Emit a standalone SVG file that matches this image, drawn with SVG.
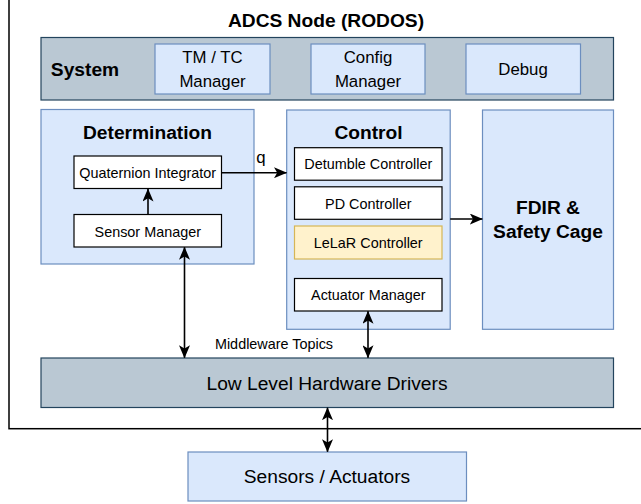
<svg xmlns="http://www.w3.org/2000/svg" width="641" height="504" viewBox="0 0 641 504">
<style>
text{font-family:"Liberation Sans",Arial,Helvetica,sans-serif;fill:#000;text-anchor:middle}
.b{font-weight:bold;font-size:19.2px}
.m{font-size:16.8px}
.s{font-size:14.4px}
.l{font-size:19.2px}
.blue{fill:#dae8fc;stroke:#6c8ebf;stroke-width:1.2}
.gray{fill:#bac8d3;stroke:#23445d;stroke-width:1.2}
.white{fill:#fff;stroke:#000;stroke-width:1.2}
.yellow{fill:#fff2cc;stroke:#d6b656;stroke-width:1.2}
.conn{fill:none;stroke:#000;stroke-width:1.6}
</style>
<defs>
<marker id="ah" viewBox="0 0 13 11" refX="12.5" refY="5.5" markerWidth="13" markerHeight="11" markerUnits="userSpaceOnUse" orient="auto-start-reverse">
<path d="M0,0 L13,5.5 L0,11 L3.2,5.5 z" fill="#000"/>
</marker>
</defs>
<rect width="641" height="504" fill="#fff"/>
<g id="adcs-node">
<rect x="9" y="-10" width="650" height="438.7" fill="none" stroke="#000" stroke-width="1.5"/>
<text class="b" x="326" y="27">ADCS Node (RODOS)</text>
</g>
<g id="system">
<rect class="gray" x="41" y="37.5" width="572.5" height="62.5"/>
<text class="b" x="85" y="76">System</text>
</g>
<g id="tmtc">
<rect class="blue" x="155" y="44" width="115" height="50"/>
<text class="m" x="212.5" y="63">TM / TC</text>
<text class="m" x="212.5" y="87">Manager</text>
</g>
<g id="config">
<rect class="blue" x="311" y="44" width="114" height="50"/>
<text class="m" x="368" y="63">Config</text>
<text class="m" x="368" y="87">Manager</text>
</g>
<g id="debug">
<rect class="blue" x="466" y="44" width="114.5" height="50"/>
<text class="m" x="523" y="75">Debug</text>
</g>
<g id="determination">
<rect class="blue" x="41" y="109.5" width="213" height="154.5"/>
<text class="b" x="147.5" y="139">Determination</text>
</g>
<g id="quaternion-integrator">
<rect class="white" x="74" y="156" width="147.5" height="32.5"/>
<text class="s" x="147.75" y="177.5">Quaternion Integrator</text>
</g>
<g id="sensor-manager">
<rect class="white" x="74" y="214.5" width="147.5" height="32.5"/>
<text class="s" x="147.75" y="236.7">Sensor Manager</text>
</g>
<g id="control">
<rect class="blue" x="286.7" y="110" width="163.5" height="219.3"/>
<text class="b" x="368.5" y="139">Control</text>
</g>
<g id="detumble">
<rect class="white" x="294.5" y="147.7" width="147.5" height="32.5"/>
<text class="s" x="368.25" y="169.3">Detumble Controller</text>
</g>
<g id="pd">
<rect class="white" x="294.5" y="186.8" width="147.5" height="32.5"/>
<text class="s" x="368.25" y="208.5">PD Controller</text>
</g>
<g id="lelar">
<rect class="yellow" x="294.5" y="226" width="147.5" height="33"/>
<text class="s" x="368.25" y="247.8">LeLaR Controller</text>
</g>
<g id="actuator-manager">
<rect class="white" x="294.5" y="278.5" width="147.5" height="32.5"/>
<text class="s" x="368.25" y="300">Actuator Manager</text>
</g>
<g id="fdir">
<rect class="blue" x="482.5" y="110" width="131" height="219.3"/>
<text class="b" x="548" y="214">FDIR &amp;</text>
<text class="b" x="548" y="238">Safety Cage</text>
</g>
<g id="llhd">
<rect class="gray" x="41" y="358" width="572.5" height="49.5"/>
<text class="l" x="327" y="389.5">Low Level Hardware Drivers</text>
</g>
<g id="sensors-actuators">
<rect class="blue" x="188" y="452" width="278.5" height="49"/>
<text class="l" x="327" y="483">Sensors / Actuators</text>
</g>
<g id="connectors">
<line class="conn" x1="148" y1="214.5" x2="148" y2="189" marker-end="url(#ah)"/>
<line class="conn" x1="221.5" y1="172.7" x2="286.5" y2="172.7" marker-end="url(#ah)"/>
<text class="m" x="261" y="163">q</text>
<line class="conn" x1="450.2" y1="219" x2="482.3" y2="219" marker-end="url(#ah)"/>
<line class="conn" x1="184.5" y1="247.2" x2="184.5" y2="357.8" marker-start="url(#ah)" marker-end="url(#ah)"/>
<line class="conn" x1="368" y1="311.2" x2="368" y2="357.8" marker-start="url(#ah)" marker-end="url(#ah)"/>
<text class="s" x="274" y="349">Middleware Topics</text>
<line class="conn" x1="327.5" y1="407.7" x2="327.5" y2="451.8" marker-start="url(#ah)" marker-end="url(#ah)"/>
</g>
</svg>
